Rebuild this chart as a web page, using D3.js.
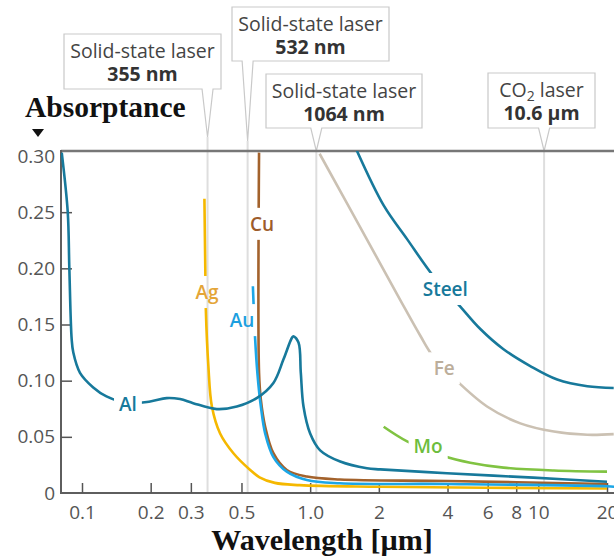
<!DOCTYPE html>
<html>
<head>
<meta charset="utf-8">
<script src="https://cdn.jsdelivr.net/npm/d3@7"></script>
<style>
  body { margin: 0; background: #fff; }
  svg { display: block; }
</style>
</head>
<body>
<svg id="chart" width="614" height="558"></svg>
<script>
// wavelength in µm / absorptance
var alWave = [0.0815, 0.0866, 0.088, 0.0901, 0.0916, 0.098, 0.112, 0.128, 0.160, 0.199, 0.235, 0.269, 0.307, 0.390, 0.477, 0.583, 0.690, 0.764, 0.831, 0.845, 0.889, 0.910, 0.935, 1.0, 1.106, 1.354, 1.773, 2.03, 3.98, 9.5, 20];
var alAbs = [0.303, 0.25, 0.20, 0.137, 0.125, 0.107, 0.094, 0.086, 0.080, 0.0815, 0.0845, 0.0836, 0.080, 0.0747, 0.077, 0.0845, 0.098, 0.119, 0.138, 0.1396, 0.134, 0.107, 0.077, 0.053, 0.038, 0.028, 0.022, 0.021, 0.0176, 0.0137, 0.010];

var agWave = [0.344, 0.347, 0.349, 0.358, 0.371, 0.403, 0.461, 0.546, 0.60, 0.70, 0.90, 2.0, 20];
var agAbs = [0.262, 0.20, 0.163, 0.113, 0.077, 0.053, 0.0354, 0.0205, 0.014, 0.009, 0.007, 0.0056, 0.004];

var cuWave = [0.597, 0.597, 0.608, 0.635, 0.690, 0.790, 0.967, 1.35, 4.0, 20];
var cuAbs = [0.303, 0.107, 0.083, 0.059, 0.0354, 0.0205, 0.0146, 0.012, 0.0107, 0.008];

var auWave = [0.561, 0.574, 0.587, 0.608, 0.635, 0.690, 0.790, 0.967, 1.35, 4.0, 20, 21.5];
var auAbs = [0.184, 0.137, 0.107, 0.077, 0.053, 0.032, 0.019, 0.0116, 0.0087, 0.008, 0.006, 0.0055];

var steelWave = [1.60, 2.10, 2.66, 3.47, 4.55, 5.57, 7.04, 9.22, 12.1, 16.4, 21.4];
var steelAbs = [0.305, 0.256, 0.226, 0.193, 0.166, 0.146, 0.128, 0.113, 0.101, 0.095, 0.0935];

var feWave = [1.10, 1.77, 2.48, 3.04, 3.42, 4.33, 5.96, 8.34, 11.7, 16.4, 21.4];
var feAbs = [0.302, 0.226, 0.172, 0.140, 0.123, 0.101, 0.077, 0.062, 0.0547, 0.0518, 0.0524];

var moWave = [2.10, 2.66, 3.84, 5.03, 7.04, 11.7, 20];
var moAbs = [0.059, 0.046, 0.033, 0.027, 0.0226, 0.020, 0.019];

var xTicks = [0.1, 0.2, 0.3, 0.5, 1, 2, 4, 6, 8, 10, 20];
var xTickLabels = ["0.1", "0.2", "0.3", "0.5", "1.0", "2", "4", "6", "8", "10", "20"];
var yTicks = [0, 0.05, 0.10, 0.15, 0.20, 0.25, 0.30];
var yTickLabels = ["0", "0.05", "0.10", "0.15", "0.20", "0.25", "0.30"];

var laserWave = [0.355, 0.532, 1.064, 10.6];
var laserName = ["Solid-state laser", "Solid-state laser", "Solid-state laser", "CO2 laser"];
var laserValue = ["355 nm", "532 nm", "1064 nm", "10.6 µm"];

// callout boxes (pixels): left, top, width, height, tip of the pointer
var boxes = [
  {x: 64, y: 34, w: 157, h: 55, tip: 137},
  {x: 232, y: 7, w: 157, h: 54, tip: 141},
  {x: 266, y: 74, w: 156, h: 54, tip: 151},
  {x: 488, y: 73, w: 107, h: 55, tip: 151}
];

var teal = "#17799b";
var series = [
  {name: "Fe", wave: feWave, abs: feAbs, color: "#cbc1b3", text: "#bcae9b", lx: 3.87, ly: 0.1107},
  {name: "Steel", wave: steelWave, abs: steelAbs, color: teal, text: teal, lx: 3.91, ly: 0.1813},
  {name: "Mo", wave: moWave, abs: moAbs, color: "#80c342", text: "#6dbd3d", lx: 3.29, ly: 0.0411},
  {name: "Cu", wave: cuWave, abs: cuAbs, color: "#a3622c", text: "#9d5c2b", lx: 0.616, ly: 0.2393},
  {name: "Ag", wave: agWave, abs: agAbs, color: "#f5b800", text: "#e4a537", lx: 0.353, ly: 0.1786},
  {name: "Au", wave: auWave, abs: auAbs, color: "#1ca6e6", text: "#1c9fe0", lx: 0.503, ly: 0.1536},
  {name: "Al", wave: alWave, abs: alAbs, color: teal, text: teal, lx: 0.159, ly: 0.0786}
];

var W = 614, H = 558;
// plot frame in pixels
var pLeft = 61, pRight = 614, pTop = 151, pBottom = 493;

var x = d3.scaleLog().domain([0.1, 20]).range([82, 607]);
var y = d3.scaleLinear().domain([0, 0.30]).range([pBottom, 156]);

var svg = d3.select("#chart");
var defs = svg.append("defs");

defs.append("clipPath").attr("id", "plotClip")
  .append("rect").attr("x", pLeft).attr("y", pTop).attr("width", pRight - pLeft).attr("height", pBottom - pTop);

// laser lines and callouts
var lasers = svg.append("g");
laserWave.forEach(function (w, i) {
  var b = boxes[i];
  var cx = x(w);
  lasers.append("line")
    .attr("x1", cx).attr("x2", cx)
    .attr("y1", b.tip).attr("y2", pBottom)
    .attr("stroke", "#dedede").attr("stroke-width", 2);

  var yb = b.y + b.h;
  var path = "M" + b.x + "," + b.y + "H" + (b.x + b.w) + "V" + yb +
    "H" + (cx + 5.5) + "L" + cx + "," + b.tip + "L" + (cx - 5.5) + "," + yb +
    "H" + b.x + "Z";
  lasers.append("path").attr("d", path)
    .attr("fill", "#fff").attr("stroke", "#c9c9c9").attr("stroke-width", 1.2);

  var t1 = lasers.append("text")
    .attr("x", b.x + b.w / 2).attr("y", b.y + 24)
    .attr("text-anchor", "middle")
    .attr("font-family", "Open Sans").attr("font-size", 19.5).attr("fill", "#444");
  if (laserName[i].indexOf("CO2") === 0) {
    t1.append("tspan").text("CO");
    t1.append("tspan").attr("font-size", 14).attr("dy", 4).text("2");
    t1.append("tspan").attr("dy", -4).text(laserName[i].slice(3));
  } else {
    t1.text(laserName[i]);
  }
  lasers.append("text")
    .attr("x", b.x + b.w / 2).attr("y", b.y + 47)
    .attr("text-anchor", "middle")
    .attr("font-family", "Open Sans").attr("font-weight", 700).attr("font-size", 19.5).attr("fill", "#333")
    .text(laserValue[i]);
});

// frame
var frame = svg.append("g");
frame.append("line").attr("x1", pLeft).attr("x2", pRight).attr("y1", pTop).attr("y2", pTop)
  .attr("stroke", "#777").attr("stroke-width", 2.5);
frame.append("line").attr("x1", pLeft).attr("x2", pLeft).attr("y1", pTop - 1).attr("y2", pBottom + 1)
  .attr("stroke", "#5e5e5e").attr("stroke-width", 2);
frame.append("line").attr("x1", pLeft - 1).attr("x2", pRight).attr("y1", pBottom).attr("y2", pBottom)
  .attr("stroke", "#5e5e5e").attr("stroke-width", 2);

// axes
var yAxis = svg.append("g").attr("transform", "translate(" + pLeft + ",0)")
  .call(d3.axisLeft(y).tickValues(yTicks).tickSizeInner(-11).tickSizeOuter(0).tickPadding(6)
    .tickFormat(function (d, i) { return yTickLabels[i]; }));
yAxis.select(".domain").remove();
yAxis.selectAll(".tick line").attr("stroke", "#555").attr("stroke-width", 1.5)
  .filter(function (d) { return d === 0 || d === 0.30; }).remove();
yAxis.selectAll("text").attr("font-family", "Open Sans").attr("font-size", 19).attr("fill", "#555");

var xAxis = svg.append("g").attr("transform", "translate(0," + pBottom + ")")
  .call(d3.axisBottom(x).tickValues(xTicks).tickSizeInner(-10).tickSizeOuter(0).tickPadding(13)
    .tickFormat(function (d, i) { return xTickLabels[i]; }));
xAxis.select(".domain").remove();
xAxis.selectAll(".tick line").attr("stroke", "#555").attr("stroke-width", 1.5);
xAxis.selectAll("text").attr("font-family", "Open Sans").attr("font-size", 19).attr("fill", "#555");

// curves, each one broken around its own label
var line = d3.line()
  .x(function (d) { return x(d[0]); })
  .y(function (d) { return y(d[1]); })
  .curve(d3.curveCatmullRom.alpha(0.5));

var plot = svg.append("g").attr("clip-path", "url(#plotClip)");
var labels = svg.append("g");

series.forEach(function (s, i) {
  var lab = labels.append("text")
    .attr("x", x(s.lx)).attr("y", y(s.ly))
    .attr("text-anchor", "middle").attr("dy", "0.35em")
    .attr("font-family", "Open Sans").attr("font-weight", 600).attr("font-size", 19)
    .attr("fill", s.text)
    .text(s.name);
  var bb = lab.node().getBBox();
  var pad = 5;
  var m = defs.append("mask").attr("id", "mask" + i).attr("maskUnits", "userSpaceOnUse")
    .attr("x", 0).attr("y", 0).attr("width", W).attr("height", H);
  m.append("rect").attr("x", 0).attr("y", 0).attr("width", W).attr("height", H).attr("fill", "#fff");
  m.append("rect").attr("x", bb.x - pad).attr("y", bb.y - pad + 2)
    .attr("width", bb.width + 2 * pad).attr("height", bb.height + 2 * pad - 4).attr("fill", "#000");

  var pts = s.wave.map(function (w, j) { return [w, s.abs[j]]; });
  plot.append("path").datum(pts)
    .attr("d", line)
    .attr("fill", "none")
    .attr("stroke", s.color).attr("stroke-width", 2.6)
    .attr("stroke-linejoin", "round")
    .attr("mask", "url(#mask" + i + ")");
});
labels.raise();

// titles
svg.append("text").attr("x", 25).attr("y", 117)
  .attr("font-family", "Liberation Serif").attr("font-weight", 700).attr("font-size", 29.5)
  .attr("fill", "#111").text("Absorptance");
svg.append("path").attr("d", "M32,129H44L38,137Z").attr("fill", "#111");

svg.append("text").attr("x", 322).attr("y", 550).attr("text-anchor", "middle")
  .attr("font-family", "Liberation Serif").attr("font-weight", 700).attr("font-size", 30)
  .attr("fill", "#111").text("Wavelength [µm]");
</script>
</body>
</html>
